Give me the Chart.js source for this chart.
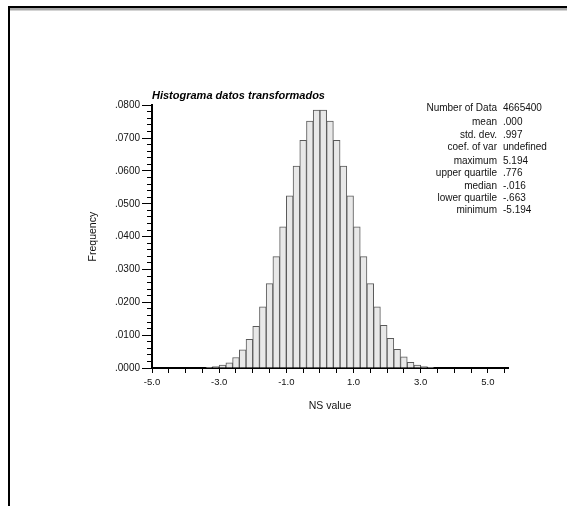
<!DOCTYPE html>
<html lang="es">
<head>
<meta charset="UTF-8">
<title>Histograma datos transformados</title>
<script src="https://cdn.jsdelivr.net/npm/chart.js"></script>
<style>
  body { margin: 0; background: #fff; font-family: 'Liberation Sans', Arial, sans-serif; }
  .frame { position: absolute; left: 8px; top: 6px; width: 559px; height: 500px; border-left: 2px solid #000; border-top: 2px solid #000; }
  .frame-shade { position: absolute; left: 10px; top: 8px; width: 557px; height: 2px; background: #a8a8a8; border-bottom: 1px solid #d4d4d4; }
  .chart-box { position: absolute; left: 0; top: 0; width: 567px; height: 506px; }
  #stats { position: absolute; left: 400px; top: 102px; border-collapse: collapse; font-size: 10px; color: #111; }
  #stats td { padding: 0; line-height: 12.3px; white-space: nowrap; }
  #stats td.k { text-align: right; width: 97px; }
  #stats td.v { padding-left: 6px; }
  #stats tr.gap td { padding-top: 2px; }
</style>
</head>
<body>
<div class="frame"></div>
<div class="frame-shade"></div>
<div class="chart-box"><canvas id="histChart"></canvas></div>
<table id="stats">
  <tr><td class="k">Number of Data</td><td class="v">4665400</td></tr>
  <tr class="gap"><td class="k">mean</td><td class="v">.000</td></tr>
  <tr><td class="k">std. dev.</td><td class="v">.997</td></tr>
  <tr><td class="k">coef. of var</td><td class="v">undefined</td></tr>
  <tr class="gap"><td class="k">maximum</td><td class="v">5.194</td></tr>
  <tr><td class="k">upper quartile</td><td class="v">.776</td></tr>
  <tr><td class="k">median</td><td class="v">-.016</td></tr>
  <tr><td class="k">lower quartile</td><td class="v">-.663</td></tr>
  <tr><td class="k">minimum</td><td class="v">-5.194</td></tr>
</table>
<script>
// bin centres (bins 0.2 wide) and frequencies
const binCenters = [-3.3, -3.1, -2.9, -2.7, -2.5, -2.3, -2.1, -1.9, -1.7, -1.5, -1.3, -1.1,
  -0.9, -0.7, -0.5, -0.3, -0.1, 0.1, 0.3, 0.5, 0.7, 0.9, 1.1, 1.3, 1.5, 1.7, 1.9, 2.1,
  2.3, 2.5, 2.7, 2.9, 3.1, 3.3];
const frequencies = [0.0001, 0.0004, 0.0009, 0.0016, 0.0032, 0.0055, 0.0087, 0.0127, 0.0186, 0.0257, 0.0339, 0.0430,
  0.0524, 0.0615, 0.0693, 0.0752, 0.0785, 0.0785, 0.0752, 0.0693, 0.0615, 0.0524, 0.0430, 0.0339, 0.0257, 0.0186, 0.0130, 0.0090,
  0.0057, 0.0034, 0.0017, 0.0009, 0.0004, 0.0001];

// x axis ticks: marks every 0.5, labels on odd values
const xTickValues = [-5, -4.5, -4, -3.5, -3, -2.5, -2, -1.5, -1, -0.5, 0, 0.5, 1, 1.5, 2, 2.5, 3, 3.5, 4, 4.5, 5, 5.5];
const xLabelValues = [-5, -3, -1, 1, 3, 5];

const isMajorY = v => Math.abs(v * 100 - Math.round(v * 100)) < 1e-6;
const fmtY = v => v.toFixed(4).replace(/^0/, '');

const ink = '#111';

new Chart(document.getElementById('histChart'), {
  type: 'bar',
  data: {
    datasets: [{
      data: binCenters.map((c, i) => ({ x: c, y: frequencies[i] })),
      backgroundColor: '#e8e8e8',
      borderColor: '#5a5a5a',
      borderWidth: 1,
      barPercentage: 1,
      categoryPercentage: 1
    }]
  },
  options: {
    responsive: true,
    maintainAspectRatio: false,
    animation: false,
    layout: { padding: { left: 87, right: 59, top: 89, bottom: 94 } },
    plugins: {
      legend: { display: false },
      tooltip: { enabled: false },
      title: {
        display: true, text: 'Histograma datos transformados', align: 'start', fullSize: false,
        padding: { top: 0, bottom: 3 }, color: '#000',
        font: { family: "'Liberation Sans', Arial, sans-serif", size: 11, weight: 'bold', style: 'italic' }
      }
    },
    scales: {
      x: {
        type: 'linear', min: -5, max: 5.6, offset: false,
        afterBuildTicks: s => { s.ticks = xTickValues.map(v => ({ value: v })); },
        afterFit: s => { s.height = 44; },
        border: { color: '#000', width: 2 },
        grid: { drawOnChartArea: false, offset: false, tickLength: 5, tickColor: '#000', tickWidth: 1 },
        ticks: {
          autoSkip: false, maxRotation: 0, padding: 4, color: ink,
          font: { family: "'Liberation Sans', Arial, sans-serif", size: 9.5 },
          callback: v => xLabelValues.includes(v) ? v.toFixed(1) : ''
        },
        title: { display: true, text: 'NS value', padding: 0, color: ink,
          font: { family: "'Liberation Sans', Arial, sans-serif", size: 10.5 } }
      },
      y: {
        min: 0, max: 0.08,
        afterFit: s => { s.width = 65; },
        border: { color: '#000', width: 2 },
        grid: {
          drawOnChartArea: false, tickLength: 10, tickColor: '#000', tickWidth: 1,
          tickBorderDash: ctx => isMajorY(ctx.tick.value) ? [] : [0, 5, 5, 20]
        },
        ticks: {
          stepSize: 0.002, autoSkip: false, padding: 2, color: ink,
          font: { family: "'Liberation Sans', Arial, sans-serif", size: 10 },
          callback: v => isMajorY(v) ? fmtY(v) : ''
        },
        title: { display: true, text: 'Frequency', padding: 0, color: ink,
          font: { family: "'Liberation Sans', Arial, sans-serif", size: 10.5 } }
      }
    }
  }
});
</script>
</body>
</html>
